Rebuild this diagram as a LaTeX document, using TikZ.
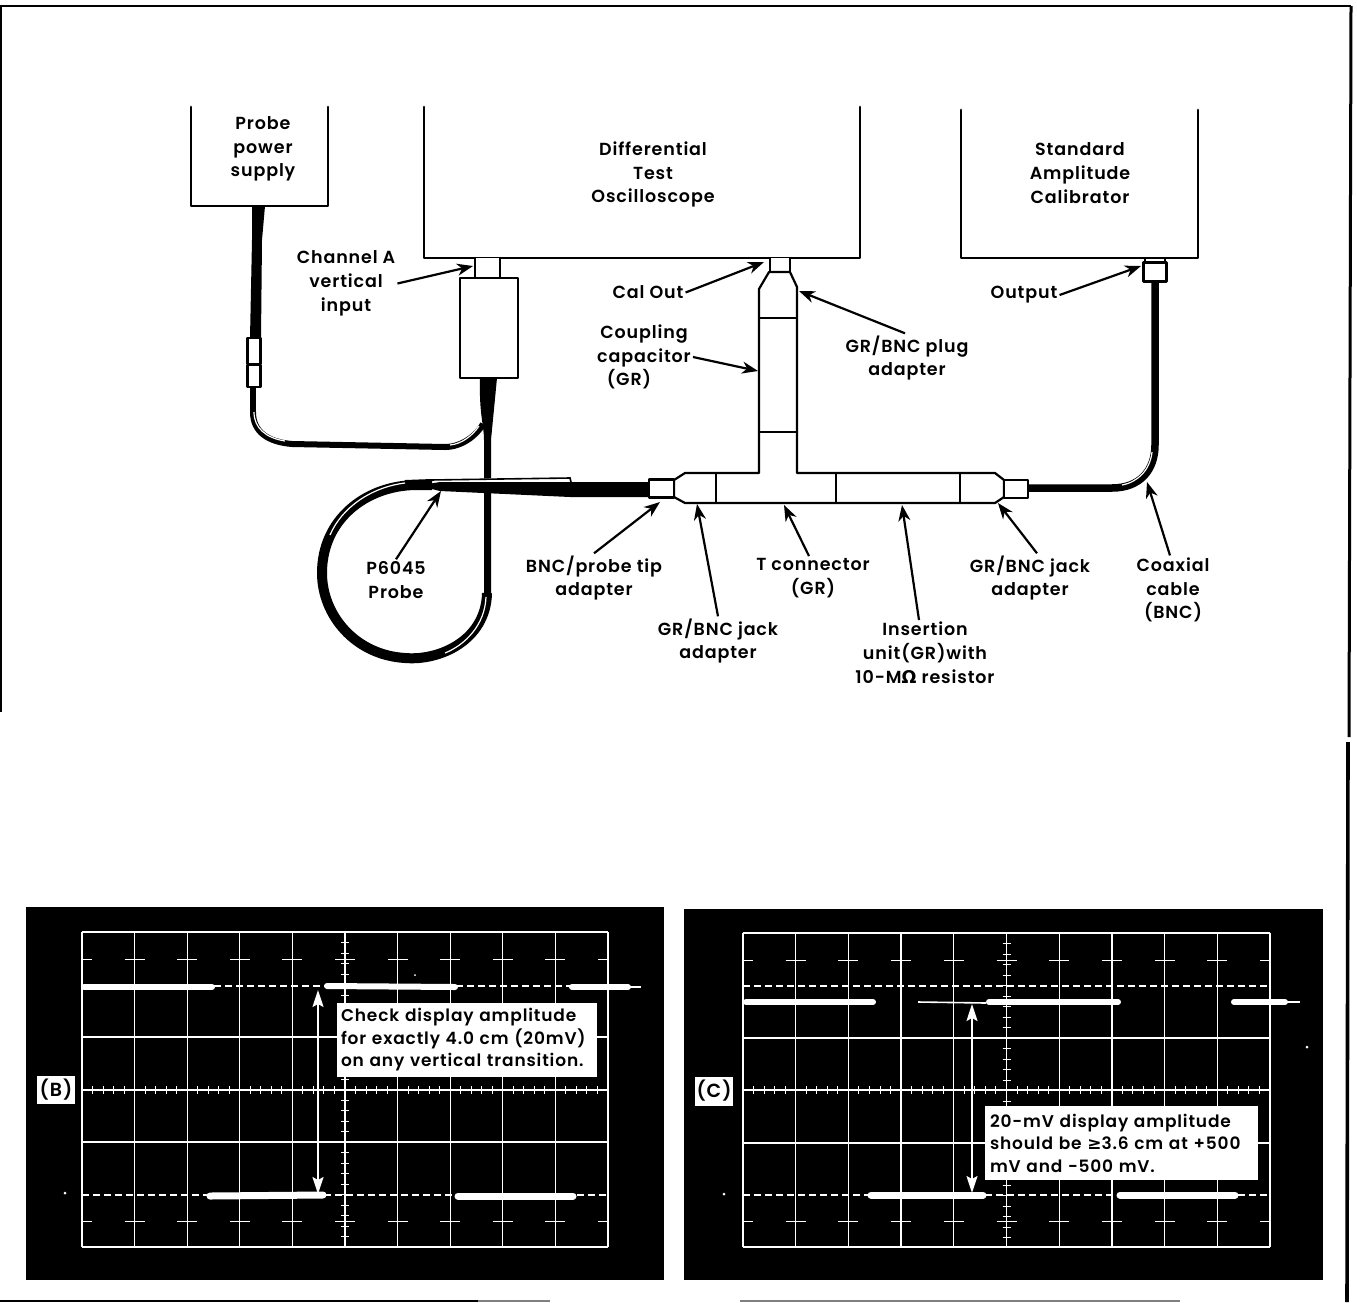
\documentclass[tikz,border=0pt]{standalone}
\usepackage{fontspec}
\setmainfont{Poppins}[UprightFont=* SemiBold,LetterSpace=5]
\newfontfamily\symfont{DejaVu Sans}[UprightFont=* Bold]
\usetikzlibrary{arrows.meta}
\tikzset{
  lbl/.style={inner sep=2pt,align=center,font=\fontsize{17.5}{23.8}\selectfont,text=black},
  ptr/.style={line width=2.2pt,-{Stealth[length=16pt,width=12pt,inset=5pt]},shorten >=0pt},
  wall/.style={line width=2.8pt,line cap=round,line join=round},
  part/.style={line width=2.2pt,fill=white,line join=round},
  shine/.style={line width=1.2pt,white},
  gridline/.style={line width=1.3pt,white},
  minorline/.style={line width=1pt,white},
  trace/.style={line width=6pt,white,line cap=round},
  dashline/.style={line width=1.3pt,white,dash pattern=on 7pt off 4pt},
  white arrow/.style={line width=1.8pt,white,{Stealth[length=17pt,width=11pt,inset=3pt]}-{Stealth[length=17pt,width=11pt,inset=3pt]}},
  note/.style={fill=white,inner ysep=0pt,align=left,font=\fontsize{17}{22.5}\selectfont,text=black},
  tagbox/.style={fill=white,inner sep=0pt,font=\fontsize{19}{20}\selectfont,text=black},
  panel/.style={fill=black,draw=none},
}
\begin{document}
\begin{tikzpicture}[x=1pt,y=-1pt]
\useasboundingbox (0,0) rectangle (1357,1302);
\fill[white] (0,0) rectangle (1357,1302);
% page frame
\draw[line width=2.2pt] (1,712) -- (1,6) -- (1351,6);
\draw[line width=3pt] (1351,6) -- (1349,737);
\draw[line width=3.6pt] (1348,742) -- (1347,1302);
\draw[line width=2pt] (0,1301) -- (478,1301);
\draw[line width=1.5pt,black!50] (478,1301) -- (550,1301);
\draw[line width=1.5pt,black!50] (740,1301) -- (1180,1301);
% instruments
\draw[wall] (191,107) -- (191,206) -- (328,206) -- (328,107);
\draw[wall] (424,107) -- (424,258) -- (860,258) -- (860,107);
\draw[wall] (961,110) -- (961,258) -- (1198,258) -- (1198,110);
% supply cable
\fill (252,206) -- (265,206) -- (262,240) -- (261,338) -- (250,338) -- (252,240) -- cycle;
\draw[line width=6pt] (253,387) -- (253,412);
\draw[line width=6pt] (253,412) .. controls (253,432) and (268,442) .. (292,444) -- (445,447) .. controls (462,447) and (477,435) .. (483,424);
\draw[shine] (254,412) .. controls (254,428) and (266,438) .. (285,441);
\draw[shine] (450,445) .. controls (462,444) and (473,435) .. (479,426);
% probe cable
\fill (480,378) -- (497,378) -- (491,440) -- (491,595) -- (484,595) -- (484,440) .. controls (484,425) and (479,415) .. cycle;
\draw[line width=10pt] (487,593) .. controls (486,640) and (440,661) .. (405,658) .. controls (355,655) and (322,615) .. (322,573) .. controls (322,520) and (365,486) .. (415,485) -- (432,485);
\draw[shine] (486,597) .. controls (485,625) and (465,645) .. (445,653);
\draw[shine] (330,535) .. controls (342,507) and (372,487) .. (405,483);
\draw[line width=2pt] (405,481) -- (432,480);
% probe body
\fill[white] (440,479) -- (571,477) -- (571,483) -- (440,483) -- cycle;
\draw[line width=1.6pt] (430,480) -- (570,478) -- (571,482);
\fill (428,484) -- (440,482) -- (650,482) -- (650,497) -- (570,497) -- (440,491) -- (428,488) -- cycle;
% calibrator cable
\draw[line width=7.5pt] (1155,281) -- (1155,445) .. controls (1155,470) and (1140,488) .. (1112,488) -- (1028,488);
\draw[shine] (1152,452) .. controls (1150,470) and (1138,482) .. (1122,485);
% probe in-line connector and probe box
\node[part,draw,minimum width=13pt,minimum height=26pt,inner sep=0pt] (pconnA) at (254,351) {};
\node[part,draw,minimum width=13pt,minimum height=22pt,inner sep=0pt] (pconnB) at (254,376) {};
\node[part,draw=none,fill=white,minimum width=23pt,minimum height=20pt,inner sep=0pt] (chstub) at (487.5,268) {};
\draw[line width=1.8pt] (chstub.north west) -- (chstub.south west) (chstub.north east) -- (chstub.south east);
\node[part,draw,minimum width=58pt,minimum height=100pt,inner sep=0pt] (probebox) at (489,328) {};
% GR assembly
\draw[part] (770,258) -- (770,272) -- (790,272) -- (790,258);
\draw[part] (769,272) -- (759,289) -- (759,473) -- (685,473) -- (674,480) -- (674,497) -- (685,503) -- (995,503) -- (1004,497) -- (1004,480) -- (995,473) -- (797,473) -- (797,287) -- (790,272) -- cycle;
\draw[line width=2pt] (759,318) -- (797,318) (759,432) -- (797,432);
\draw[line width=2pt] (716,473) -- (716,503) (836,473) -- (836,503) (960,473) -- (960,503);
\node[part,draw,minimum width=25pt,minimum height=18pt,inner sep=0pt] (leftad) at (661.5,488.5) {};
\node[part,draw,minimum width=24pt,minimum height=18pt,inner sep=0pt] (rightad) at (1016,489) {};
\node[part,draw,minimum width=23pt,minimum height=19pt,inner sep=0pt] (outconn) at (1155,272) {};
\draw[line width=2pt] (1145,258) -- (1145,263) (1165,258) -- (1165,263);
% instrument labels
\node[lbl] (supply) at (263,149) {Probe\\power\\supply};
\node[lbl] (scope) at (653,174.5) {Differential\\Test\\Oscilloscope};
\node[lbl] (calib) at (1080,173) {Standard\\Amplitude\\Calibrator};
% part labels
\node[lbl] (chA) at (346,283.5) {Channel A\\vertical\\input};
\node[lbl] (calout) at (648,292.5) {Cal Out};
\node[lbl] (output) at (1024,295) {Output};
\node[lbl] (coupl) at (644,357) {Coupling\\capacitor\\(GR)\hspace*{30pt}};
\node[lbl] (plug) at (907,358) {GR/BNC plug\\adapter};
\node[lbl] (probe) at (396,580) {P6045\\Probe};
\node[lbl] (tipad) at (594,578) {BNC/probe tip\\adapter};
\node[lbl] (jackL) at (718,641) {GR/BNC jack\\adapter};
\node[lbl] (tconn) at (813,578) {T connector\\(GR)};
\node[lbl] (insert) at (925,653) {Insertion\\unit(GR)with\\10-M{\symfont Ω} resistor};
\node[lbl] (jackR) at (1030,578) {GR/BNC jack\\adapter};
\node[lbl] (coax) at (1173,590) {Coaxial\\cable\\(BNC)};
% arrow tips
\coordinate (tChA) at (473,266);
\coordinate (tCal) at (764,262);
\coordinate (tOut) at (1141,266);
\coordinate (tCoup) at (758,371);
\coordinate (tPlug) at (799,291);
\coordinate (tProbe) at (441,491);
\coordinate (tTip) at (660,502);
\coordinate (tJackL) at (697,504);
\coordinate (tT) at (784,505);
\coordinate (tIns) at (902,505);
\coordinate (tJackR) at (998,503);
\coordinate (tCoax) at (1147,482);
\draw[ptr] (chA.east) -- (tChA);
\draw[ptr] (calout.east) -- (tCal);
\draw[ptr] (output.east) -- (tOut);
\draw[ptr] (coupl.east) -- (tCoup);
\draw[ptr] ([xshift=-2pt]plug.north) -- (tPlug);
\draw[ptr] (probe.north) -- (tProbe);
\draw[ptr] (tipad.north) -- (tTip);
\draw[ptr] (jackL.north) -- (tJackL);
\draw[ptr] ([xshift=-4pt]tconn.north) -- (tT);
\draw[ptr] ([xshift=-6pt]insert.north) -- (tIns);
\draw[ptr] ([xshift=7pt]jackR.north) -- (tJackR);
\draw[ptr] ([xshift=-3pt]coax.north) -- (tCoax);
% panel B
\fill[panel] (26,907) rectangle (664,1280);
\begin{scope}
\clip (82,925) rectangle (608,1250);
\foreach \i in {0,...,10} {
  \draw[minorline] ({72+52.6*\i},959) -- ({92+52.6*\i},959);
  \draw[minorline] ({72+52.6*\i},1221) -- ({92+52.6*\i},1221);}
\end{scope}
\foreach \i in {0,...,10} {\draw[gridline] ({82+52.6*\i},932) -- ({82+52.6*\i},1247);}
\foreach \y in {932,1037,1090,1142,1247} {\draw[gridline] (82,\y) -- (608,\y);}
\foreach \i in {1,...,49} {\draw[minorline] ({82+10.52*\i},1086) -- ({82+10.52*\i},1094);}
\foreach \i in {1,...,29} {\draw[minorline] (341,{932+10.5*\i}) -- (349,{932+10.5*\i});}
\draw[dashline] (82,986) -- (608,986);
\draw[dashline] (82,1195) -- (608,1195);
\draw[trace] (84,987) -- (212,987);
\draw[trace] (327,986) -- (455,987);
\draw[trace] (572,987) -- (628,987);
\draw[line width=1.5pt,white] (628,987) -- (641,987);
\draw[trace,line width=7pt] (210,1196) -- (323,1195);
\draw[trace,line width=7pt] (458,1196) -- (573,1196);
\coordinate (bTop) at (318,990);
\coordinate (bBot) at (318,1194);
\draw[white arrow] (bBot) -- (bTop);
\node[tagbox,minimum width=38pt,minimum height=28pt] (tagB) at (56,1090) {(B)};
\node[note,inner xsep=4pt,text width=252pt,minimum height=74pt] (noteB) at (467,1040) {Check display amplitude\\for exactly 4.0 cm (20mV)\\on any vertical transition.};
% panel C
\fill[panel] (684,909) rectangle (1323,1280);
\begin{scope}
\clip (743,925) rectangle (1270,1250);
\foreach \i in {0,...,10} {
  \draw[minorline] ({733+52.7*\i},960) -- ({753+52.7*\i},960);
  \draw[minorline] ({733+52.7*\i},1221) -- ({753+52.7*\i},1221);}
\end{scope}
\foreach \i in {0,...,10} {\draw[gridline] ({743+52.7*\i},933) -- ({743+52.7*\i},1247);}
\foreach \y in {933,1038,1090,1143,1247} {\draw[gridline] (743,\y) -- (1270,\y);}
\foreach \i in {1,...,49} {\draw[minorline] ({743+10.54*\i},1086) -- ({743+10.54*\i},1094);}
\foreach \i in {1,...,29} {\draw[minorline] (1002.5,{933+10.5*\i}) -- (1010.5,{933+10.5*\i});}
\draw[dashline] (743,986) -- (1270,986);
\draw[dashline] (743,1195) -- (1270,1195);
\draw[trace] (746,1002) -- (873,1002);
\draw[line width=1.6pt,white] (918,1002) -- (986,1003);
\draw[trace] (989,1002) -- (1118,1002);
\draw[trace] (1234,1002) -- (1285,1002);
\draw[line width=1.5pt,white] (1285,1002) -- (1300,1002);
\draw[trace,line width=7pt] (871,1195) -- (983,1195);
\draw[trace,line width=7pt] (1120,1195) -- (1235,1195);
\coordinate (cTop) at (972,1004);
\coordinate (cBot) at (972,1193);
\draw[white arrow] (cBot) -- (cTop);
\node[tagbox,minimum width=38pt,minimum height=29pt] (tagC) at (714,1091) {(C)};
\node[note,inner xsep=5pt,text width=263pt,minimum height=74pt] (noteC) at (1121.5,1143) {20-mV display amplitude\\should be {\symfont ≥}3.6 cm at +500\\mV and −500 mV.};
% specks
\fill[white] (65,1193) circle (1.5pt) (724,1194) circle (1.5pt) (1307,1047) circle (1.5pt) (415,975) circle (1pt);
\end{tikzpicture}
\end{document}
